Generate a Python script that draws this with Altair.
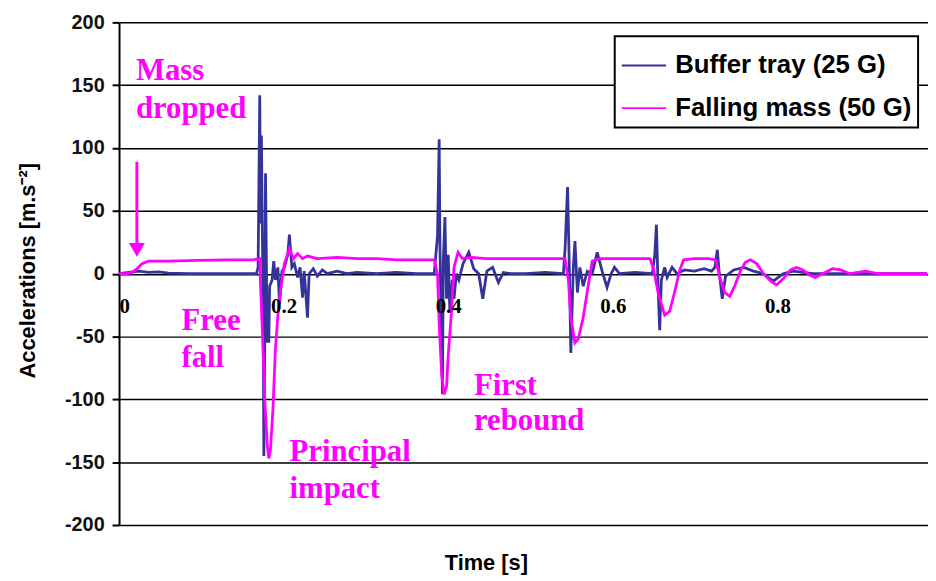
import altair as alt
import pandas as pd

# ---------------- data ----------------
series_names = ["Buffer tray (25 G)", "Falling mass (50 G)"]
series_colors = ["#333399", "#FF00FF"]

mass_t = [0, 0.010, 0.016, 0.022, 0.028, 0.036, 0.060, 0.096, 0.133, 0.163,
          0.171, 0.172, 0.175, 0.177, 0.180, 0.182, 0.184, 0.187, 0.190, 0.194,
          0.198, 0.201, 0.207, 0.212, 0.217, 0.223, 0.229, 0.241, 0.265, 0.289,
          0.313, 0.337, 0.361, 0.383, 0.387, 0.389, 0.392, 0.395, 0.398, 0.400,
          0.404, 0.407, 0.412, 0.417, 0.428, 0.446, 0.482, 0.518, 0.542, 0.546,
          0.549, 0.554, 0.558, 0.564, 0.570, 0.575, 0.584, 0.614, 0.645, 0.649,
          0.655, 0.663, 0.669, 0.675, 0.681, 0.686, 0.699, 0.717, 0.725, 0.730,
          0.736, 0.742, 0.748, 0.755, 0.761, 0.767, 0.775, 0.783, 0.792, 0.799,
          0.807, 0.816, 0.823, 0.831, 0.839, 0.846, 0.855, 0.867, 0.877, 0.888,
          0.898, 0.907, 0.922, 0.940, 0.982]
mass_a = [0, 0, 1, 4, 8, 10, 10, 10.5, 11, 11,
          12, -10, -60, -100, -135, -147, -140, -108, -60, -25,
          -5, 8, 20, 12, 16, 12, 14, 12, 13, 12,
          12, 11, 11, 11, 0, -40, -80, -96, -90, -65,
          -30, 5, 17, 12, 13, 12, 12, 12, 12, -5,
          -35, -55, -52, -35, -10, 10, 12, 12, 12, 5,
          -15, -33, -30, -15, 2, 11, 12, 12, 11, -3,
          -15, -18, -10, 2, 9, 11, 8, 0, -6, -9,
          -4, 3, 5, 3, -1, -3, 0, 4, 3, 0,
          1, 2, 0, 0, 0]

buffer_t = [0, 0.012, 0.024, 0.036, 0.048, 0.060, 0.084, 0.108, 0.133, 0.157,
            0.167, 0.169, 0.171, 0.172, 0.173, 0.175, 0.176, 0.177, 0.178, 0.180,
            0.181, 0.182, 0.183, 0.186, 0.188, 0.190, 0.193, 0.195, 0.198, 0.201,
            0.205, 0.207, 0.210, 0.213, 0.217, 0.220, 0.223, 0.225, 0.229, 0.231,
            0.236, 0.241, 0.247, 0.253, 0.265, 0.277, 0.289, 0.313, 0.337, 0.361,
            0.383, 0.387, 0.389, 0.390, 0.393, 0.394, 0.396, 0.398, 0.400, 0.402,
            0.405, 0.407, 0.410, 0.413, 0.418, 0.425, 0.431, 0.437, 0.442, 0.447,
            0.454, 0.461, 0.467, 0.476, 0.494, 0.518, 0.540, 0.542, 0.545, 0.547,
            0.549, 0.552, 0.554, 0.557, 0.560, 0.564, 0.569, 0.575, 0.581, 0.587,
            0.593, 0.598, 0.602, 0.608, 0.627, 0.648, 0.651, 0.653, 0.655, 0.657,
            0.659, 0.663, 0.666, 0.672, 0.678, 0.687, 0.699, 0.711, 0.720, 0.724,
            0.727, 0.729, 0.733, 0.737, 0.747, 0.759, 0.771, 0.783, 0.795, 0.807,
            0.819, 0.843, 0.880, 0.916, 0.982]
buffer_a = [0, 1, 2, 1, 1.5, 0.5, 0, 0, 0, 0,
            0, 5, 142, 40, 110, -20, -145, -60, 80, -55,
            -30, -55, -10, -5, 10, -5, 5, -24, 2, 5,
            15, 31, 5, 8, -3, 5, -19, 2, -35, 0,
            4, -2, 3, 0, 2, 0, 1, 0, 1, 0,
            0, 30, 107, 20, -96, 10, 45, -20, 15, -30,
            -5, -20, 0, -5, 8, 17, 4, 0, -20, 2,
            5, -7, 1, 0, 0, 1, 0, 20, 69, 10,
            -63, 5, 26, -15, 5, -10, 2, 0, 17, 2,
            -11, 0, 5, 0, 1, 0, 15, 39, -10, -45,
            -5, 5, -3, 5, 0, 3, 2, 4, 2, 5,
            19, 3, -20, -2, 3, 5, 2, 0, -6, 0,
            2, 0, 0, 0, 0]

y_ticks = [-200, -150, -100, -50, 0, 50, 100, 150, 200]
x_ticks = [0, 0.2, 0.4, 0.6, 0.8]

note_labels = ["Mass", "dropped", "Free", "fall", "First", "rebound", "Principal", "impact"]
note_t = [0.0205, 0.0205, 0.0759, 0.0759, 0.4313, 0.4313, 0.2072, 0.2072]
note_a = [153.8, 123.9, -45.0, -74.2, -96.3, -124.7, -149.1, -178.3]

arrow_t = [0.0217]
arrow_from = [89.0]
arrow_to = [24.0]
arrow_head = [19.0]

assert len(mass_t) == len(mass_a), (len(mass_t), len(mass_a))
assert len(buffer_t) == len(buffer_a), (len(buffer_t), len(buffer_a))

# ---------------- tables ----------------
df_buffer = pd.DataFrame({"t": buffer_t, "a": buffer_a, "series": series_names[0]})
df_mass = pd.DataFrame({"t": mass_t, "a": mass_a, "series": series_names[1]})
df_notes = pd.DataFrame({"t": note_t, "a": note_a, "label": note_labels})
df_arrow = pd.DataFrame({"t": arrow_t, "a": arrow_from, "a2": arrow_to})
df_head = pd.DataFrame({"t": arrow_t, "a": arrow_head})

MAG = "#FF00FF"

x_enc = alt.X(
    "t:Q",
    scale=alt.Scale(domain=[0, 0.983], nice=False, zero=False),
    axis=alt.Axis(
        values=x_ticks,
        labelExpr="datum.value == 0 ? '0' : format(datum.value, '.1f')",
        offset=-253.5,
        domain=False, ticks=False, grid=False,
        labelFont="Liberation Serif", labelFontWeight="bold", labelFontSize=21,
        labelColor="black", labelPadding=22,
        title="Time [s]", titleFont="Liberation Sans", titleFontSize=22,
        titleFontWeight="bold", titleColor="black",
        titleX=370, titleY=291, titleBaseline="middle", titleAlign="center",
        zindex=1,
    ),
)
y_enc = alt.Y(
    "a:Q",
    scale=alt.Scale(domain=[-200, 200], nice=False, zero=False),
    axis=alt.Axis(
        values=y_ticks,
        labelExpr="toString(datum.value)",
        grid=True, gridColor="black", gridWidth=1.5, gridOpacity=1,
        domainColor="black", domainWidth=2,
        tickColor="black", tickSize=7, tickWidth=2,
        labelFont="Liberation Sans", labelFontSize=20, labelFontWeight="bold",
        labelColor="#111111", labelPadding=8,
        title="Accelerations [m.s⁻²]", titleFont="Liberation Sans",
        titleFontSize=22, titleFontWeight="bold", titleColor="black",
        titleX=-92, titleY=250, titleBaseline="middle", titleAlign="center",
        titleAngle=270,
    ),
)
color_enc = alt.Color(
    "series:N",
    scale=alt.Scale(domain=series_names, range=series_colors),
    legend=alt.Legend(
        orient="none", legendX=500, legendY=14, title=None,
        fillColor="white", strokeColor="black", padding=6,
        symbolType="stroke", symbolSize=2000, symbolStrokeWidth=2,
        labelFont="Liberation Sans", labelFontSize=26, labelFontWeight="bold",
        labelColor="black", labelOffset=8, rowPadding=6, labelLimit=0,
    ),
)

buffer_line = alt.Chart(df_buffer).mark_line(strokeWidth=2.8).encode(
    x=x_enc, y=y_enc, color=color_enc)
mass_line = alt.Chart(df_mass).mark_line(strokeWidth=2.8).encode(
    x=x_enc, y=y_enc, color=color_enc)

notes = alt.Chart(df_notes).mark_text(
    align="left", baseline="alphabetic", font="Liberation Serif",
    fontSize=31, fontWeight="bold", color=MAG,
).encode(x=x_enc, y=y_enc, text="label:N")

arrow = alt.Chart(df_arrow).mark_rule(color=MAG, strokeWidth=3).encode(
    x=x_enc, y=y_enc, y2="a2:Q")
head = alt.Chart(df_head).mark_point(
    shape="triangle-down", filled=True, size=260, color=MAG, opacity=1
).encode(x=x_enc, y=y_enc)

chart = alt.layer(buffer_line, mass_line, notes, arrow, head).properties(
    width=816, height=507,
    autosize=alt.AutoSizeParams(type="none"),
    padding={"left": 112, "top": 12, "right": 0, "bottom": 54},
    background="white",
).configure_view(stroke=None).configure_legend(strokeWidth=2)

chart.save("out.html", embed_options={"renderer": "svg", "actions": False})
